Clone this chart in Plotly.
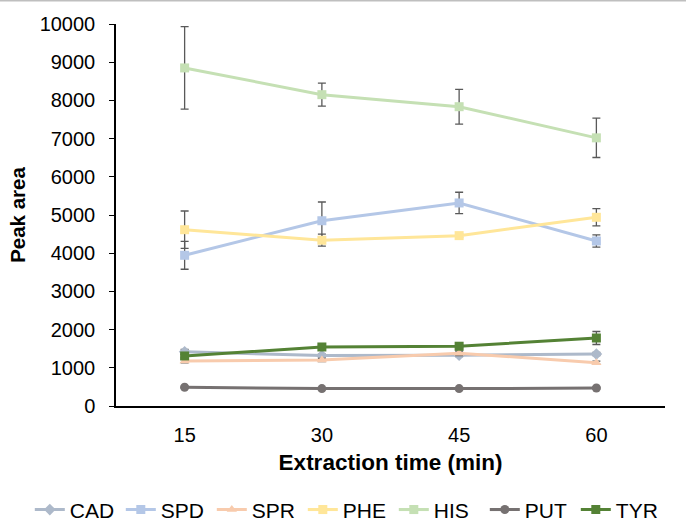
import plotly.graph_objects as go

times = ["15", "30", "45", "60"]
series_names = ["CAD", "SPD", "SPR", "PHE", "HIS", "PUT", "TYR"]
CAD = [1420, 1320, 1330, 1360]
SPD = [3945, 4850, 5315, 4320]
SPR = [1180, 1205, 1380, 1135]
PHE = [4615, 4340, 4460, 4940]
HIS = [8850, 8150, 7835, 7020]
PUT = [490, 455, 455, 470]
TYR = [1310, 1545, 1565, 1780]
CAD_err = [60, 40, 40, 40]
SPD_err = [365, 490, 280, 160]
SPR_err = [50, 40, 60, 40]
PHE_err = [490, 157, 50, 225]
HIS_err = [1080, 300, 455, 515]
PUT_err = [20, 20, 20, 20]
TYR_err = [40, 40, 40, 170]

values = [CAD, SPD, SPR, PHE, HIS, PUT, TYR]
errors = [CAD_err, SPD_err, SPR_err, PHE_err, HIS_err, PUT_err, TYR_err]
colors = ["#ADB9CA", "#B4C7E7", "#F8CBAD", "#FFE699", "#C5E0B4", "#767171", "#548235"]
symbols = ["diamond", "square", "triangle-up", "square", "square", "circle", "square"]

fig = go.Figure()
for name, v, e, c, s in zip(series_names, values, errors, colors, symbols):
    fig.add_trace(go.Scatter(
        x=times, y=v, name=name, mode="lines+markers",
        line=dict(color=c, width=3),
        marker=dict(symbol=s, size=9, color=c),
        error_y=dict(type="data", array=e, visible=True, color="#595959", thickness=1.3, width=4),
    ))

font = "Liberation Sans, Arial, sans-serif"
fig.update_layout(
    width=686, height=521,
    margin=dict(l=116, r=21, t=24, b=115, autoexpand=False),
    paper_bgcolor="white", plot_bgcolor="white",
    font=dict(family=font, size=20, color="#000000"),
    showlegend=True,
    legend=dict(orientation="h", x=-0.157, xanchor="left", y=-0.272, yanchor="middle",
                font=dict(size=21, color="#000000"), itemwidth=30, tracegroupgap=0,
                entrywidth=46, entrywidthmode="pixels"),
    xaxis=dict(
        type="category", range=[-0.5, 3.5], showline=True, linecolor="#000000", linewidth=1.5,
        ticks="", showgrid=False, zeroline=False, tickfont=dict(size=20, color="#000000"),
        ticklabelstandoff=10,
        title=dict(text="<b>Extraction time (min)</b>", font=dict(size=22.5, color="#000000"), standoff=9),
    ),
    yaxis=dict(
        range=[0, 10000], dtick=1000, tickformat="d", showline=True, linecolor="#000000", linewidth=1.5,
        ticks="outside", ticklen=5, tickcolor="#000000", showgrid=False, zeroline=False,
        tickfont=dict(size=20, color="#000000"), ticklabelstandoff=10,
        title=dict(text="<b>Peak area</b>", font=dict(size=20.5, color="#000000"), standoff=8),
    ),
)
fig.add_shape(type="line", xref="paper", yref="paper", x0=-0.3, x1=1.1, y0=1.0615, y1=1.0615,
              line=dict(color="#BFBFBF", width=2))
fig.write_html("out.html")
